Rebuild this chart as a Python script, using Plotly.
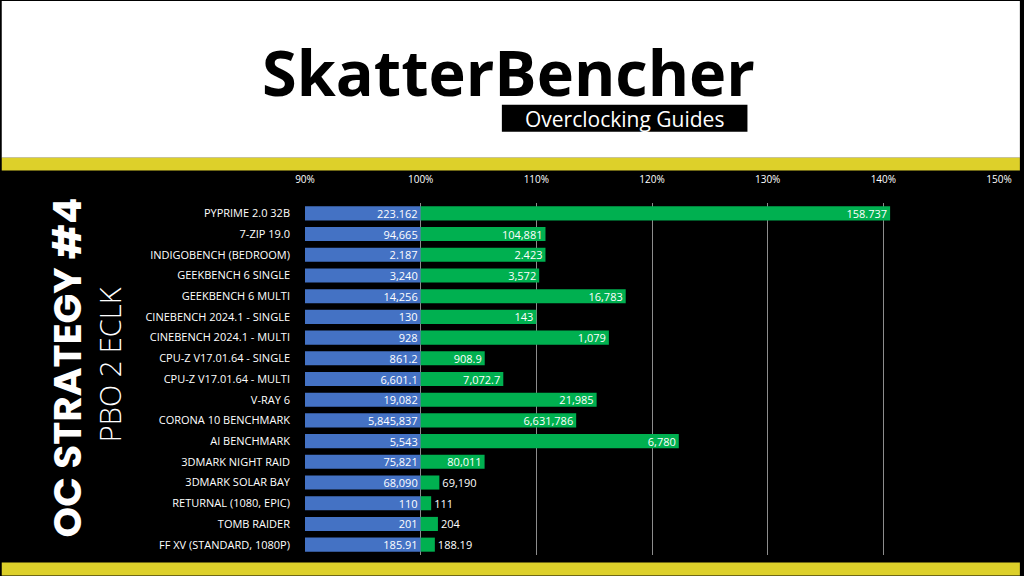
import plotly.graph_objects as go

categories = [
    "PYPRIME 2.0 32B", "7-ZIP 19.0", "INDIGOBENCH (BEDROOM)", "GEEKBENCH 6 SINGLE",
    "GEEKBENCH 6 MULTI", "CINEBENCH 2024.1 - SINGLE", "CINEBENCH 2024.1 - MULTI",
    "CPU-Z V17.01.64 - SINGLE", "CPU-Z V17.01.64 - MULTI", "V-RAY 6", "CORONA 10 BENCHMARK",
    "AI BENCHMARK", "3DMARK NIGHT RAID", "3DMARK SOLAR BAY", "RETURNAL (1080, EPIC)",
    "TOMB RAIDER", "FF XV (STANDARD, 1080P)",
]
baseline = [223.162, 94665, 2.187, 3240, 14256, 130, 928, 861.2, 6601.1, 19082, 5845837,
            5543, 75821, 68090, 110, 201, 185.91]
overclocked = [158.737, 104881, 2.423, 3572, 16783, 143, 1079, 908.9, 7072.7, 21985, 6631786,
               6780, 80011, 69190, 111, 204, 188.19]
lower_is_better = [True] + [False] * 16
baseline_labels = ["223.162", "94,665", "2.187", "3,240", "14,256", "130", "928", "861.2",
                   "6,601.1", "19,082", "5,845,837", "5,543", "75,821", "68,090", "110", "201", "185.91"]
oc_labels = ["158.737", "104,881", "2.423", "3,572", "16,783", "143", "1,079", "908.9",
             "7,072.7", "21,985", "6,631,786", "6,780", "80,011", "69,190", "111", "204", "188.19"]
tick_vals = [90, 100, 110, 120, 130, 140, 150]
tick_text = ["90%", "100%", "110%", "120%", "130%", "140%", "150%"]

rel = []
for b, o, low in zip(baseline, overclocked, lower_is_better):
    r = (b / o) if low else (o / b)
    rel.append(r * 100 - 100)

W, H = 1024, 576
L, R, T, B = 305, 1003, 202.5, 555.5

def px(x):
    return (x - L) / (R - L)

def py(y):
    return (B - y) / (B - T)

BLUE = "#4472C4"
GREEN = "#00B050"
YELLOW = "#DDD02A"
FONT = "Open Sans"

oc_positions = ["inside"] * 13 + ["outside"] * 4

fig = go.Figure()
fig.add_trace(go.Bar(
    y=categories, x=[10] * len(categories), base=90, orientation="h",
    marker=dict(color=BLUE, line=dict(width=0)),
    text=baseline_labels, textposition="inside", insidetextanchor="end",
    insidetextfont=dict(color="white", size=11, family=FONT),
    constraintext="none", cliponaxis=False, hoverinfo="skip",
))
fig.add_trace(go.Bar(
    y=categories, x=rel, base=100, orientation="h",
    marker=dict(color=GREEN, line=dict(width=0)),
    text=oc_labels, textposition=oc_positions, insidetextanchor="end",
    insidetextfont=dict(color="white", size=11, family=FONT),
    outsidetextfont=dict(color="white", size=11, family=FONT),
    constraintext="none", cliponaxis=False, hoverinfo="skip",
))

shapes = [
    dict(type="rect", xref="paper", yref="paper", x0=px(0), x1=px(W), y0=py(0), y1=py(157),
         fillcolor="white", line=dict(width=0), layer="below"),
    dict(type="rect", xref="paper", yref="paper", x0=px(0), x1=px(W), y0=py(157), y1=py(170),
         fillcolor=YELLOW, line=dict(width=0), layer="below"),
    dict(type="rect", xref="paper", yref="paper", x0=px(0), x1=px(W), y0=py(563), y1=py(576),
         fillcolor=YELLOW, line=dict(width=0), layer="below"),
    dict(type="rect", xref="paper", yref="paper", x0=px(503), x1=px(750), y0=py(104), y1=py(131),
         fillcolor="black", line=dict(width=0), layer="below"),
]

annotations = [
    dict(text="<b>SkatterBencher</b>", xref="paper", yref="paper", x=px(510), y=py(70),
         xanchor="center", yanchor="middle", showarrow=False, height=62, valign="middle",
         font=dict(family=FONT, size=63, color="black")),
    dict(text="Overclocking Guides", xref="paper", yref="paper", x=px(626), y=py(118),
         xanchor="center", yanchor="middle", showarrow=False,
         font=dict(family=FONT, size=21, color="white")),
    dict(text="<b>OC STRATEGY #4</b>", xref="paper", yref="paper", x=px(66), y=py(367),
         xanchor="center", yanchor="middle", showarrow=False, textangle=-90,
         font=dict(family="Poppins, Inter, Open Sans", size=39, color="white")),
    dict(text="PBO 2 ECLK", xref="paper", yref="paper", x=px(108), y=py(365),
         xanchor="center", yanchor="middle", showarrow=False, textangle=-90,
         font=dict(family=FONT, size=29, color="white", weight=300)),
]

fig.update_layout(
    width=W, height=H,
    margin=dict(l=L, r=W - R, t=T, b=H - B, pad=0),
    paper_bgcolor="black", plot_bgcolor="black",
    barmode="overlay", bargap=0.32, showlegend=False,
    shapes=shapes, annotations=annotations,
    xaxis=dict(range=[90, 150], side="top", tickvals=tick_vals, ticktext=tick_text,
               showgrid=True, gridcolor="#8c8c8c", gridwidth=1, zeroline=False,
               showline=False, ticks="", ticklabelstandoff=17,
               tickfont=dict(family=FONT, size=10, color="white")),
    yaxis=dict(autorange="reversed", showgrid=False, zeroline=False, showline=False,
               ticks="", ticklabelstandoff=14,
               tickfont=dict(family=FONT, size=11, color="white")),
)

fig.write_html("out.html")
